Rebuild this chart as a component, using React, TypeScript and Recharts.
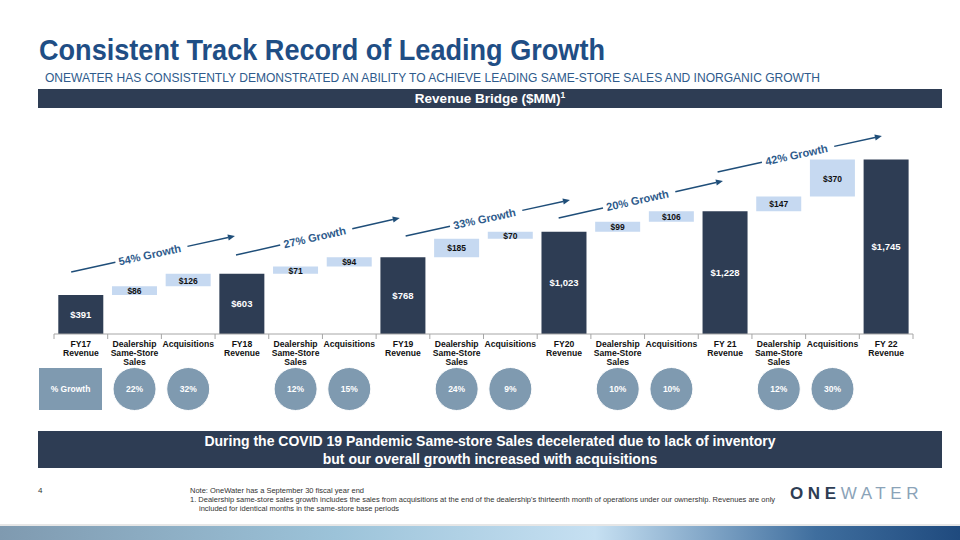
import React from 'react';
import { BarChart, Bar, XAxis, YAxis, Cell, LabelList, ReferenceLine } from 'recharts';

// waterfall steps, left to right
const stepLabels = [
  'FY17\nRevenue', 'Dealership\nSame-Store\nSales', 'Acquisitions',
  'FY18\nRevenue', 'Dealership\nSame-Store\nSales', 'Acquisitions',
  'FY19\nRevenue', 'Dealership\nSame-Store\nSales', 'Acquisitions',
  'FY20\nRevenue', 'Dealership\nSame-Store\nSales', 'Acquisitions',
  'FY 21\nRevenue', 'Dealership\nSame-Store\nSales', 'Acquisitions',
  'FY 22\nRevenue',
];
const stepKinds = [
  'total', 'delta', 'delta', 'total', 'delta', 'delta', 'total', 'delta', 'delta',
  'total', 'delta', 'delta', 'total', 'delta', 'delta', 'total',
];
const stepValues = [391, 86, 126, 603, 71, 94, 768, 185, 70, 1023, 99, 106, 1228, 147, 370, 1745];
const stepGrowth = ['', '22%', '32%', '', '12%', '15%', '', '24%', '9%', '', '10%', '10%', '', '12%', '30%', ''];
const periodGrowth = ['54%', '27%', '33%', '20%', '42%'];

// arrow placement in (step index, $MM) units
const arrowStart = [[-0.18, 620], [2.89, 790], [6.05, 980], [8.9, 1160], [11.86, 1620]];
const arrowEnd = [[2.87, 980], [5.94, 1160], [9.11, 1340], [11.96, 1530], [14.92, 1980]];

const NAVY = '#2E3D54';
const LIGHT = '#C6D9F1';
const CIRCLE = '#7F9AB0';
const ARIAL = "'Liberation Sans', Arial, sans-serif";

let running = 0;
const rows = stepValues.map((v, i) => {
  const base = stepKinds[i] === 'total' ? 0 : running;
  running = stepKinds[i] === 'total' ? v : running + v;
  return { id: `s${i}`, pos: i, base, value: v };
});

const PLOT_L = 54;
const PLOT_R = 913;
const BAND = (PLOT_R - PLOT_L) / stepValues.length;

function AxisTick(props: any) {
  const { x, y, payload } = props;
  const i = Number(String(payload.value).slice(1));
  const lines = stepLabels[i].split('\n');
  const g = stepGrowth[i];
  return (
    <g>
      <line x1={x - BAND / 2} x2={x - BAND / 2} y1={y} y2={y + 5} stroke="#A6A6A6" />
      {i === stepValues.length - 1 && (
        <line x1={x + BAND / 2} x2={x + BAND / 2} y1={y} y2={y + 5} stroke="#A6A6A6" />
      )}
      <text textAnchor="middle" fontSize={8.6} fontWeight="bold" fill="#111" fontFamily={ARIAL}>
        {lines.map((l, k) => (
          <tspan key={k} x={x} y={y + 13 + k * 9}>{l}</tspan>
        ))}
      </text>
      {g && (
        <g>
          <circle cx={x} cy={y + 55} r={21.5} fill={CIRCLE} stroke="#fff" strokeWidth={1} />
          <text x={x} y={y + 58} textAnchor="middle" fontSize={8.5} fontWeight="bold" fill="#fff" fontFamily={ARIAL}>{g}</text>
        </g>
      )}
    </g>
  );
}

function StepLabel(props: any) {
  const { x, y, width, height, value, index } = props;
  const total = stepKinds[index] === 'total';
  return (
    <text
      x={x + width / 2}
      y={y + height / 2 + 3.5}
      textAnchor="middle"
      fontSize={total ? 9.5 : 8.5}
      fontWeight="bold"
      fill={total ? '#fff' : '#111'}
      fontFamily={ARIAL}
    >
      ${Number(value).toLocaleString('en-US')}
    </text>
  );
}

function GrowthArrow(props: any) {
  const { x1, y1, x2, y2, text } = props;
  const dx = x2 - x1;
  const dy = y2 - y1;
  const len = Math.hypot(dx, dy);
  const ux = dx / len;
  const uy = dy / len;
  const ang = (Math.atan2(dy, dx) * 180) / Math.PI;
  const at = (t: number) => [x1 + dx * t, y1 + dy * t];
  const [ax, ay] = at(0.27);
  const [bx, by] = at(0.71);
  const [tx, ty] = at(0.48);
  const hx = x2 - ux * 7;
  const hy = y2 - uy * 7;
  const px = -uy * 3;
  const py = ux * 3;
  return (
    <g>
      <line x1={x1} y1={y1} x2={ax} y2={ay} stroke="#1F4E79" strokeWidth={1.4} />
      <line x1={bx} y1={by} x2={hx} y2={hy} stroke="#1F4E79" strokeWidth={1.4} />
      <polygon points={`${x2},${y2} ${hx + px},${hy + py} ${hx - px},${hy - py}`} fill="#1F4E79" />
      <text
        x={tx}
        y={ty + 4}
        transform={`rotate(${ang} ${tx} ${ty})`}
        textAnchor="middle"
        fontSize={11}
        fontWeight="bold"
        fill="#2E5B8C"
        fontFamily={ARIAL}
      >
        {text}
      </text>
    </g>
  );
}

export default function App() {
  return (
    <div style={{ position: 'absolute', left: 0, top: 0, width: 960, height: 540, background: '#fff', overflow: 'hidden' }}>
      <svg width={960} height={540} style={{ position: 'absolute', left: 0, top: 0 }}>
        <defs>
          <linearGradient id="band" x1="0" x2="1" y1="0" y2="0">
            <stop offset="0" stopColor="#7F9AB0" />
            <stop offset="0.35" stopColor="#9CC3D9" />
            <stop offset="0.62" stopColor="#C6E0F2" />
            <stop offset="0.85" stopColor="#3F6E9E" />
            <stop offset="1" stopColor="#1F4A7E" />
          </linearGradient>
        </defs>
        <text x={39} y={60} fontSize={30} fontWeight="bold" fill="#1F4E85" fontFamily={ARIAL} textLength={566} lengthAdjust="spacingAndGlyphs">
          Consistent Track Record of Leading Growth
        </text>
        <text x={45} y={82} fontSize={13.5} fill="#2E5B8C" fontFamily={ARIAL} textLength={775} lengthAdjust="spacingAndGlyphs">
          ONEWATER HAS CONSISTENTLY DEMONSTRATED AN ABILITY TO ACHIEVE LEADING SAME-STORE SALES AND INORGANIC GROWTH
        </text>
        <rect x={38} y={89} width={904} height={19} fill={NAVY} />
        <text x={490} y={103} textAnchor="middle" fontSize={13.5} fontWeight="bold" fill="#fff" fontFamily={ARIAL}>
          Revenue Bridge ($MM)<tspan fontSize={8.5} dy={-5}>1</tspan>
        </text>
        <rect x={39} y={368} width={63} height={42} fill={CIRCLE} />
        <text x={70.5} y={392} textAnchor="middle" fontSize={8.5} fontWeight="bold" fill="#fff" fontFamily={ARIAL}>% Growth</text>
        <rect x={38} y={431} width={904} height={37} fill={NAVY} />
        <text x={490} y={446} textAnchor="middle" fontSize={14} fontWeight="bold" fill="#fff" fontFamily={ARIAL}>
          During the COVID 19 Pandemic Same-store Sales decelerated due to lack of inventory
        </text>
        <text x={490} y={464} textAnchor="middle" fontSize={14} fontWeight="bold" fill="#fff" fontFamily={ARIAL}>
          but our overall growth increased with acquisitions
        </text>
        <text x={38} y={493} fontSize={8} fill="#333" fontFamily={ARIAL}>4</text>
        <g fontSize={7.5} fill="#333" fontFamily={ARIAL}>
          <text x={190} y={493}>Note: OneWater has a September 30 fiscal year end</text>
          <text x={190} y={502}>
            1.  Dealership same-store sales growth includes the sales from acquisitions at the end of the dealership's thirteenth month of operations under our ownership. Revenues are only
          </text>
          <text x={199} y={511}>included for identical months in the same-store base periods</text>
        </g>
        <text x={790} y={499} fontSize={17} fontFamily={ARIAL} letterSpacing={4.6}>
          <tspan fill="#2E3D54" fontWeight="bold">ONE</tspan>
          <tspan fill="#8BA3B8">WATER</tspan>
        </text>
        <rect x={0} y={524} width={960} height={2} fill="#E6E6E6" />
        <rect x={0} y={526} width={960} height={14} fill="url(#band)" />
      </svg>
      <div style={{ position: 'absolute', left: 0, top: 0 }}>
        <BarChart
          width={960}
          height={430}
          data={rows}
          margin={{ top: 134, right: 960 - PLOT_R, bottom: 0, left: PLOT_L }}
          barCategoryGap="8%"
        >
          <XAxis
            dataKey="id"
            height={96}
            tick={<AxisTick />}
            tickLine={false}
            tickSize={0}
            tickMargin={0}
            interval={0}
            axisLine={{ stroke: '#A6A6A6' }}
          />
          <XAxis
            xAxisId="n"
            dataKey="pos"
            type="number"
            domain={[0, stepValues.length - 1]}
            padding={{ left: BAND / 2, right: BAND / 2 }}
            hide
          />
          <YAxis hide domain={[0, 2000]} />
          <Bar dataKey="base" stackId="w" fill="transparent" isAnimationActive={false} />
          <Bar dataKey="value" stackId="w" isAnimationActive={false}>
            {rows.map((r, i) => (
              <Cell key={r.id} fill={stepKinds[i] === 'total' ? NAVY : LIGHT} />
            ))}
            <LabelList dataKey="value" content={<StepLabel />} />
          </Bar>
          {periodGrowth.map((g, k) => (
            <ReferenceLine
              key={g + k}
              xAxisId="n"
              segment={[
                { x: arrowStart[k][0], y: arrowStart[k][1] },
                { x: arrowEnd[k][0], y: arrowEnd[k][1] },
              ]}
              ifOverflow="visible"
              shape={(p: any) => <GrowthArrow {...p} text={`${g} Growth`} />}
            />
          ))}
        </BarChart>
      </div>
    </div>
  );
}
